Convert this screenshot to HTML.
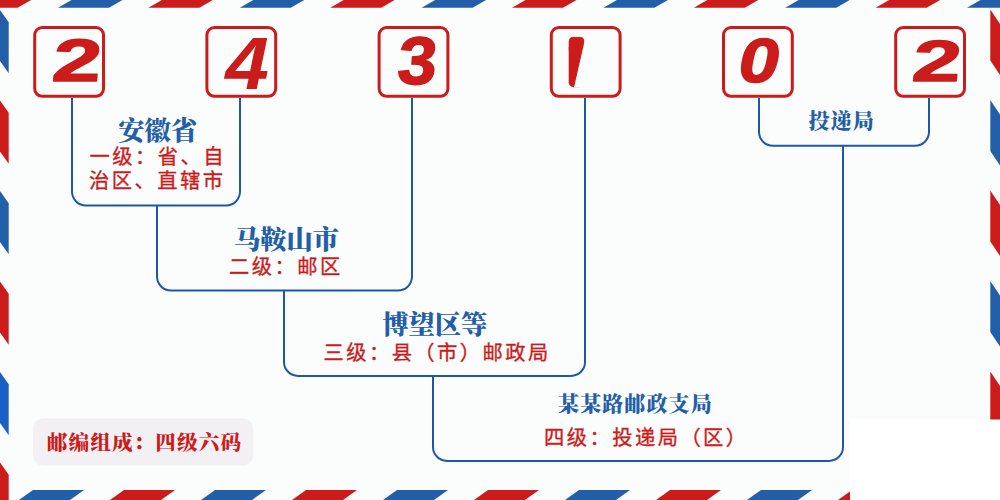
<!DOCTYPE html>
<html lang="zh-CN">
<head>
<meta charset="utf-8">
<title>243102 邮编组成</title>
<style>
html,body{margin:0;padding:0;background:#fbfdfc;}
body{width:1000px;height:500px;overflow:hidden;position:relative;}
svg{position:absolute;left:0;top:0;display:block;}
.t{font-family:"Noto Serif CJK SC","Liberation Serif",serif;font-weight:900;fill:#235ea8;}
.r{font-family:"Noto Sans CJK SC","Liberation Sans",sans-serif;font-weight:400;fill:#cc1b1b;stroke:#cc1b1b;stroke-width:0.35px;font-size:20.3px;letter-spacing:2.45px;}
.d{font-weight:bold;fill:#cc1b1b;stroke:#cc1b1b;stroke-linejoin:round;}
.l{font-family:"Noto Serif CJK SC","Liberation Serif",serif;font-weight:900;fill:#cc1b1b;font-size:20.6px;letter-spacing:1.1px;}
</style>
</head>
<body>
<svg width="1000" height="500" viewBox="0 0 1000 500">
<rect x="0" y="0" width="1000" height="500" fill="#fbfdfc"/>
<g>
<polygon fill="#235ea8" points="58.0,7.7 71.5,0.0 122.5,0.0 109.0,7.7"/>
<polygon fill="#cc1b1b" points="-33.4,7.7 -19.9,0.0 31.1,0.0 17.6,7.7"/>
<polygon fill="#235ea8" points="239.8,7.7 253.3,0.0 304.3,0.0 290.8,7.7"/>
<polygon fill="#cc1b1b" points="148.4,7.7 161.9,0.0 212.9,0.0 199.4,7.7"/>
<polygon fill="#235ea8" points="421.6,7.7 435.1,0.0 486.1,0.0 472.6,7.7"/>
<polygon fill="#cc1b1b" points="330.2,7.7 343.7,0.0 394.7,0.0 381.2,7.7"/>
<polygon fill="#235ea8" points="603.4,7.7 616.9,0.0 667.9,0.0 654.4,7.7"/>
<polygon fill="#cc1b1b" points="512.0,7.7 525.5,0.0 576.5,0.0 563.0,7.7"/>
<polygon fill="#235ea8" points="785.2,7.7 798.7,0.0 849.7,0.0 836.2,7.7"/>
<polygon fill="#cc1b1b" points="693.8,7.7 707.3,0.0 758.3,0.0 744.8,7.7"/>
<polygon fill="#235ea8" points="967.0,7.7 980.5,0.0 1031.5,0.0 1018.0,7.7"/>
<polygon fill="#cc1b1b" points="875.6,7.7 889.1,0.0 940.1,0.0 926.6,7.7"/>
<polygon fill="#235ea8" points="19.0,500.0 33.0,490.0 84.0,490.0 70.0,500.0"/>
<polygon fill="#cc1b1b" points="110.0,500.0 124.0,490.0 175.0,490.0 161.0,500.0"/>
<polygon fill="#235ea8" points="201.0,500.0 215.0,490.0 266.0,490.0 252.0,500.0"/>
<polygon fill="#cc1b1b" points="292.0,500.0 306.0,490.0 357.0,490.0 343.0,500.0"/>
<polygon fill="#235ea8" points="383.0,500.0 397.0,490.0 448.0,490.0 434.0,500.0"/>
<polygon fill="#cc1b1b" points="474.0,500.0 488.0,490.0 539.0,490.0 525.0,500.0"/>
<polygon fill="#235ea8" points="565.0,500.0 579.0,490.0 630.0,490.0 616.0,500.0"/>
<polygon fill="#cc1b1b" points="656.0,500.0 670.0,490.0 721.0,490.0 707.0,500.0"/>
<polygon fill="#235ea8" points="747.0,500.0 761.0,490.0 812.0,490.0 798.0,500.0"/>
<polygon fill="#cc1b1b" points="838.0,500.0 852.0,490.0 903.0,490.0 889.0,500.0"/>
<polygon fill="#235ea8" points="929.0,500.0 943.0,490.0 994.0,490.0 980.0,500.0"/>
<polygon fill="#235ea8" points="0.0,10.0 8.7,22.3 8.7,73.3 0.0,61.0"/>
<polygon fill="#cc1b1b" points="0.0,100.5 8.7,112.8 8.7,163.8 0.0,151.5"/>
<polygon fill="#235ea8" points="0.0,191.0 8.7,203.3 8.7,254.3 0.0,242.0"/>
<polygon fill="#cc1b1b" points="0.0,281.5 8.7,293.8 8.7,344.8 0.0,332.5"/>
<polygon fill="#1a60c4" points="0.0,372.0 8.7,384.3 8.7,435.3 0.0,423.0"/>
<polygon fill="#cc1b1b" points="0.0,462.5 8.7,474.8 8.7,525.8 0.0,513.5"/>
<polygon fill="#cc1b1b" points="990.3,9.5 1000.0,24.0 1000.0,75.0 990.3,60.5"/>
<polygon fill="#235ea8" points="990.3,100.0 1000.0,114.5 1000.0,165.5 990.3,151.0"/>
<polygon fill="#cc1b1b" points="990.3,190.5 1000.0,205.0 1000.0,256.0 990.3,241.5"/>
<polygon fill="#235ea8" points="990.3,281.0 1000.0,295.5 1000.0,346.5 990.3,332.0"/>
<polygon fill="#cc1b1b" points="990.3,371.5 1000.0,386.0 1000.0,437.0 990.3,422.5"/>
<polygon fill="#235ea8" points="990.3,462.0 1000.0,476.5 1000.0,527.5 990.3,513.0"/>
</g>
<rect x="850" y="419.5" width="150" height="80.5" fill="#ffffff"/>
<g fill="none" stroke="#1d57a6" stroke-width="2">
<path d="M72.0,98.0 V191.6 A14,14 0 0 0 86.0,205.6 H226.0 A14,14 0 0 0 240.0,191.6 V98.0"/>
<path d="M157.0,205.6 V276.6 A14,14 0 0 0 171.0,290.6 H398.0 A14,14 0 0 0 412.0,276.6 V98.0"/>
<path d="M284.0,290.6 V361.9 A14,14 0 0 0 298.0,375.9 H571.0 A14,14 0 0 0 585.0,361.9 V98.0"/>
<path d="M433.0,375.9 V446.9 A14,14 0 0 0 447.0,460.9 H829.0 A14,14 0 0 0 843.0,446.9 V145.8"/>
<path d="M759.0,98.0 V131.8 A14,14 0 0 0 773.0,145.8 H915.0 A14,14 0 0 0 929.0,131.8 V98.0"/>
</g>
<g fill="#fbfdfc" stroke="#cc1b1b" stroke-width="3">
<rect x="34.7" y="27.5" width="68.8" height="68.8" rx="7.5" ry="7.5"/>
<rect x="206.9" y="27.5" width="68.8" height="68.8" rx="7.5" ry="7.5"/>
<rect x="379.1" y="27.5" width="68.8" height="68.8" rx="7.5" ry="7.5"/>
<rect x="551.3" y="27.5" width="68.8" height="68.8" rx="7.5" ry="7.5"/>
<rect x="723.5" y="27.5" width="68.8" height="68.8" rx="7.5" ry="7.5"/>
<rect x="895.7" y="27.5" width="68.8" height="68.8" rx="7.5" ry="7.5"/>
</g>
<defs><clipPath id="c1"><rect x="568.7" y="36.5" width="15.7" height="50.8" rx="5" ry="5"/></clipPath></defs>
<g class="d">
<text transform="translate(50.70,81.40) scale(1,0.6802) skewX(-4)" font-size="88.00" style="font-family:'Liberation Sans',sans-serif;font-style:normal;stroke-width:1.94px">2</text>
<text transform="translate(225.18,89.40) scale(1,0.9482) skewX(0)" font-size="78.56" style="font-family:'Liberation Sans',sans-serif;font-style:italic;stroke-width:0.00px">4</text>
<text transform="translate(395.89,83.95) scale(1,0.9596) skewX(-5)" font-size="70.38" style="font-family:'Liberation Sans',sans-serif;font-style:normal;stroke-width:1.41px">3</text>
<g clip-path="url(#c1)"><text transform="translate(533.4,96.6) scale(1.17,1) skewX(-11)" font-size="87" style="font-family:'Liberation Sans',sans-serif;">1</text></g>
<text transform="translate(738.74,82.45) scale(1,0.8705) skewX(0)" font-size="72.08" style="font-family:'Liberation Sans',sans-serif;font-style:italic;stroke-width:1.80px">0</text>
<text transform="translate(910.81,81.42) scale(1,0.6658) skewX(-4)" font-size="87.62" style="font-family:'Liberation Sans',sans-serif;font-style:normal;stroke-width:1.93px">2</text>
</g>
<g class="t" font-size="26.3">
<text x="118.25" y="139.50">安徽省</text>
<text x="233.95" y="249.35">马鞍山市</text>
<text x="382.15" y="333.50">博望区等</text>
</g>
<g class="t" font-size="21" letter-spacing="1.1">
<text x="558.05" y="410.95">某某路邮政支局</text>
<text x="808.50" y="128.40">投递局</text>
</g>
<g class="r">
<text x="89.52" y="164.00">一级：省、自</text>
<text x="89.00" y="187.75">治区、直辖市</text>
<text x="228.98" y="274.20">二级：邮区</text>
<text x="323.44" y="359.50">三级：县（市）邮政局</text>
<text x="544.00" y="445.35">四级：投递局（区）</text>
</g>
<rect x="33" y="418.2" width="220.4" height="47.6" rx="11" ry="11" fill="#f3f0f3"/>
<g class="l">
<text x="46.85" y="450.10">邮编组成：四级六码</text>
</g>
</svg>
</body>
</html>
